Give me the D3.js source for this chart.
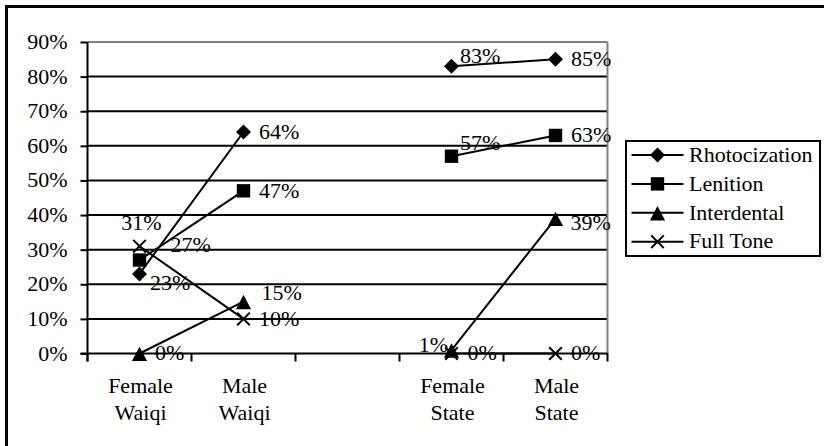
<!DOCTYPE html>
<html>
<head>
<meta charset="utf-8">
<script src="https://cdn.jsdelivr.net/npm/d3@7"></script>
<style>
  html, body { margin: 0; padding: 0; background: #fff; }
  svg { display: block; }
  svg text { font-family: "Liberation Serif", "Times New Roman", Times, "DejaVu Serif", serif; font-size: 22px; fill: #000; }
</style>
</head>
<body>
<svg id="chart" width="824" height="446"></svg>
<script>
// Categories (the blank one is the gap between the two groups)
const categories = ["Female\nWaiqi", "Male\nWaiqi", "", "Female\nState", "Male\nState"];
const seriesNames = ["Rhotocization", "Lenition", "Interdental", "Full Tone"];

// Shares per category, as fractions
const rhotocization = [0.23, 0.64, null, 0.83, 0.85];
const lenition      = [0.27, 0.47, null, 0.57, 0.63];
const interdental   = [0.00, 0.15, null, 0.01, 0.39];
const fullTone      = [0.31, 0.10, null, 0.00, 0.00];

const yTicks = [0, 0.1, 0.2, 0.3, 0.4, 0.5, 0.6, 0.7, 0.8, 0.9];

const seriesValues = [rhotocization, lenition, interdental, fullTone];

const FONT = '"Liberation Serif", "Times New Roman", Times, "DejaVu Serif", serif';

// Layout
const plot = { left: 87.5, right: 607.5, top: 42, bottom: 353.5 };
const svg = d3.select("#chart").attr("font-family", FONT).attr("font-size", 22);

const x = d3.scaleBand().domain(d3.range(categories.length))
  .range([plot.left, plot.right]).padding(0);
const y = d3.scaleLinear().domain([0, 0.9]).range([plot.bottom, plot.top]);
const cx = i => x(i) + x.bandwidth() / 2;
const pct = d3.format(".0%");

// Outer chart frame
svg.append("rect")
  .attr("x", 6.5).attr("y", 6.5).attr("width", 840).attr("height", 460)
  .attr("fill", "none").attr("stroke", "#000").attr("stroke-width", 3);

// Horizontal gridlines (top one is the grey plot-area edge)
svg.append("g").selectAll("line").data(yTicks.filter(t => t > 0))
  .join("line")
  .attr("x1", plot.left).attr("x2", plot.right)
  .attr("y1", d => y(d)).attr("y2", d => y(d))
  .attr("stroke", d => d === 0.9 ? "#808080" : "#000")
  .attr("stroke-width", 2);

// Grey right edge of the plot area
svg.append("line")
  .attr("x1", plot.right).attr("x2", plot.right)
  .attr("y1", plot.top).attr("y2", plot.bottom)
  .attr("stroke", "#808080").attr("stroke-width", 2);

// Y axis
const yAxis = svg.append("g")
  .attr("transform", `translate(${plot.left},0)`)
  .call(d3.axisLeft(y).tickValues(yTicks).tickFormat(pct).tickSize(7).tickSizeOuter(0).tickPadding(13));
yAxis.attr("font-family", FONT).attr("font-size", 22);
yAxis.select(".domain").attr("stroke", "#000").attr("stroke-width", 2)
  .attr("d", `M0,${plot.top}V${plot.bottom + 8}`);
yAxis.selectAll(".tick line").attr("stroke", "#000").attr("stroke-width", 2);
yAxis.selectAll(".tick text").attr("fill", "#000").attr("dy", "6.5px");

// X axis line and tick marks between categories
svg.append("line")
  .attr("x1", plot.left - 7).attr("x2", plot.right)
  .attr("y1", plot.bottom).attr("y2", plot.bottom)
  .attr("stroke", "#000").attr("stroke-width", 2);
const edges = d3.range(categories.length).map(i => x(i)).concat([x.range()[1]]);
svg.append("g").selectAll("line").data(edges).join("line")
  .attr("x1", d => d).attr("x2", d => d)
  .attr("y1", plot.bottom).attr("y2", plot.bottom + 8)
  .attr("stroke", "#000").attr("stroke-width", 2);

// Category labels (two lines each)
const xLab = svg.append("g").selectAll("text").data(categories).join("text")
  .attr("text-anchor", "middle")
  .attr("transform", (d, i) => `translate(${cx(i) + 1},${plot.bottom + 39.8})`);
xLab.each(function (d) {
  const parts = d.split("\n");
  d3.select(this).selectAll("tspan").data(parts).join("tspan")
    .attr("x", 0).attr("dy", (p, j) => j === 0 ? 0 : 26.7).text(p => p);
});

// Marker shapes
const markerPath = {
  "Rhotocization": "M0,-7.5L7.5,0L0,7.5L-7.5,0Z",
  "Lenition": "M-6.7,-6.7H6.7V6.7H-6.7Z",
  "Interdental": "M0,-6.8L7.6,7.6H-7.6Z",
  "Full Tone": "M-6.3,-6.3L6.3,6.3M6.3,-6.3L-6.3,6.3"
};
function drawMarker(g, name, px, py) {
  const cross = name === "Full Tone";
  g.append("path")
    .attr("transform", `translate(${px},${py})`)
    .attr("d", markerPath[name])
    .attr("fill", cross ? "none" : "#000")
    .attr("stroke", "#000")
    .attr("stroke-width", cross ? 2 : 0);
}

// Lines and markers
const line = d3.line()
  .defined(d => d.v != null)
  .x(d => cx(d.i)).y(d => y(d.v));

seriesNames.forEach((name, s) => {
  const pts = seriesValues[s].map((v, i) => ({ v, i }));
  const g = svg.append("g");
  g.append("path").datum(pts)
    .attr("d", line).attr("fill", "none")
    .attr("stroke", "#000").attr("stroke-width", 2);
  pts.filter(p => p.v != null).forEach(p => drawMarker(g, name, cx(p.i), y(p.v)));
});

// Data label placement: default is to the right of the point
const labelDefault = { dx: 15.5, dy: 6.7, anchor: "start" };
const labelOverride = {
  "Rhotocization": { 0: { dx: 10.5, dy: 16 }, 3: { dx: 8.5, dy: -3.5 } },
  "Lenition": { 0: { dx: 31, dy: -8 }, 3: { dx: 8.5, dy: -6 } },
  "Interdental": { 1: { dx: 18, dy: -1.6 }, 3: { dx: -3.5, dy: 1.7, anchor: "end" }, 4: { dx: 15, dy: 11.5 } },
  "Full Tone": { 0: { dx: 2, dy: -16, anchor: "middle" }, 3: { dx: 16, dy: 6.7 } }
};

const labels = svg.append("g");
seriesNames.forEach((name, s) => {
  seriesValues[s].forEach((v, i) => {
    if (v == null) return;
    const o = Object.assign({}, labelDefault, (labelOverride[name] || {})[i] || {});
    labels.append("text")
      .attr("x", cx(i) + o.dx).attr("y", y(v) + o.dy)
      .attr("text-anchor", o.anchor)
      .text(pct(v));
  });
});

// Legend
const legend = { x: 626, y: 141, w: 194, h: 115, rowY0: 155, rowStep: 28.9 };
svg.append("rect")
  .attr("x", legend.x).attr("y", legend.y).attr("width", legend.w).attr("height", legend.h)
  .attr("fill", "#fff").attr("stroke", "#000").attr("stroke-width", 2);
seriesNames.forEach((name, s) => {
  const ly = legend.rowY0 + s * legend.rowStep;
  const g = svg.append("g");
  g.append("line").attr("x1", 631.5).attr("x2", 683.5).attr("y1", ly).attr("y2", ly)
    .attr("stroke", "#000").attr("stroke-width", 2);
  drawMarker(g, name, 657.5, ly);
  g.append("text").attr("x", 689).attr("y", ly + 6.7).text(name);
});
</script>
</body>
</html>
